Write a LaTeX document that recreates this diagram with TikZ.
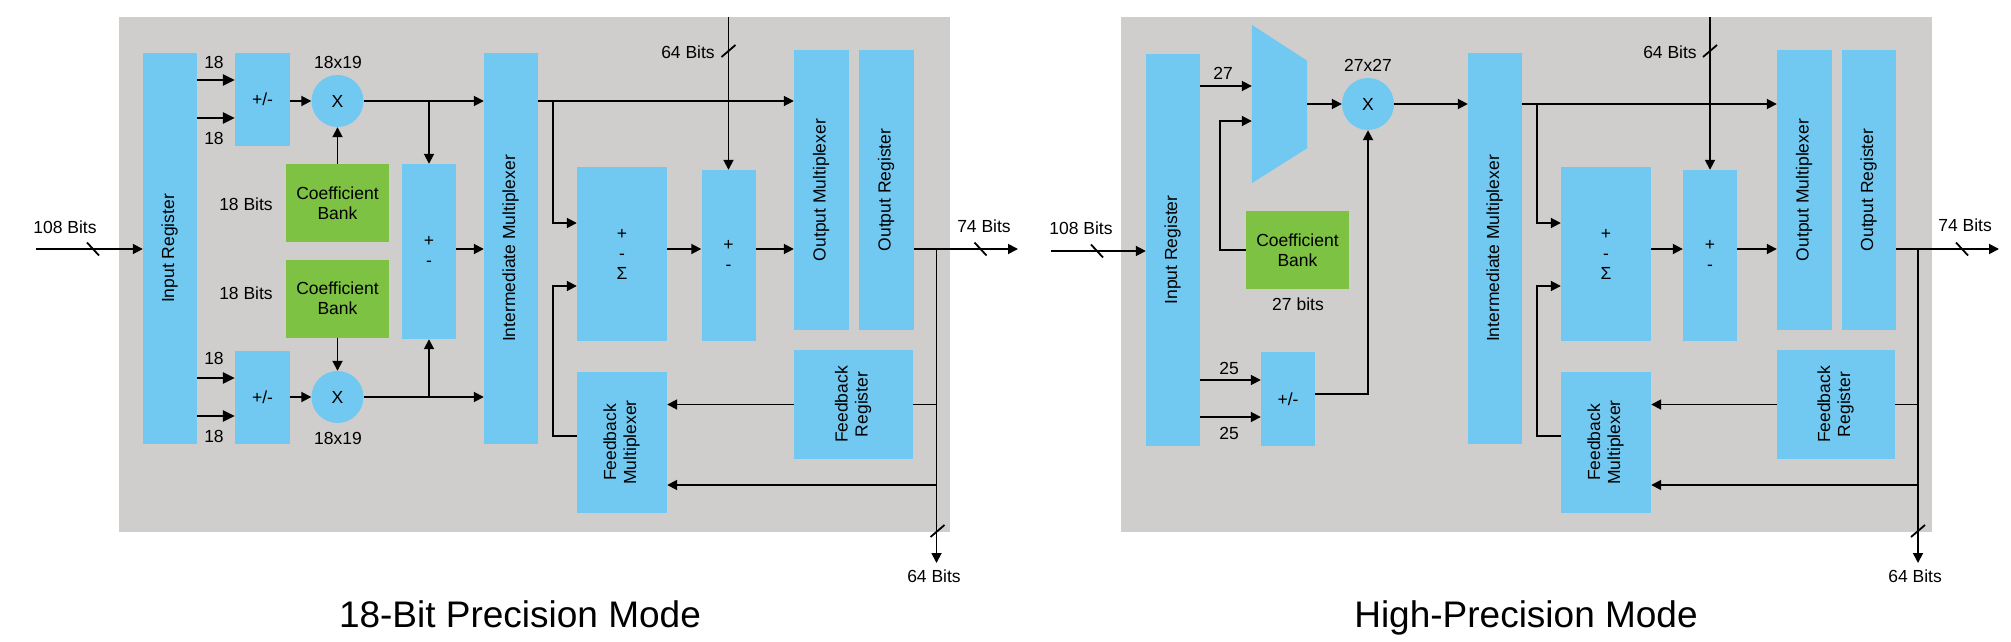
\documentclass[tikz,border=0pt]{standalone}
\usepackage{fontspec}
\setmainfont{Liberation Sans}
\usepackage{graphicx}
\usetikzlibrary{arrows.meta, calc}
\definecolor{panelgray}{RGB}{207,206,205}
\definecolor{blockblue}{RGB}{113,200,240}
\definecolor{bankgreen}{RGB}{125,194,67}
\newcommand{\lblfont}{\fontsize{17.5}{20}\selectfont}
\newcommand{\vtext}[1]{\rotatebox{90}{\begin{tabular}{@{}c@{}}#1\end{tabular}}}

\begin{document}
\begin{tikzpicture}[
        x=1pt, y=-1pt, >={Triangle[length=10pt,width=10pt]},
        wire/.style={line width=1.8pt},
        fatwire/.style={line width=2.8pt, >={Triangle[length=12pt,width=11pt]}},
        blk/.style={fill=blockblue, inner sep=0pt, font=\lblfont, align=center},
        bank/.style={fill=bankgreen, inner sep=0pt, font=\lblfont, align=center,
                     minimum width=103pt, minimum height=78pt},
        mult/.style={circle, fill=blockblue, inner sep=0pt, minimum size=52pt, font=\lblfont},
        lbl/.style={inner sep=0pt, font=\lblfont},
        caption/.style={inner sep=0pt, font=\fontsize{37}{44}\selectfont, anchor=base},
        bslash/.pic={\draw[wire] (-6,-6.5) -- (6,6.5);},
        fslash/.pic={\draw[wire] (-7,6) -- (7,-6);},
        ]
        \useasboundingbox (0,0) rectangle (2011,642);

        % 18-bit precision mode
        \fill[panelgray] (119,17) rectangle (949.5,532);
        \node[blk, minimum width=54pt, minimum height=391pt] (inregA) at (170,248.5) {\vtext{Input Register}};
        \node[blk, minimum width=55pt, minimum height=93pt] (addsubA1) at (262.5,99.5) {+/-};
        \node[blk, minimum width=55pt, minimum height=93pt] (addsubA2) at (262.5,397.5) {+/-};
        \node[mult] (multA1) at (337.5,101) {X};
        \node[mult] (multA2) at (337.5,397) {X};
        \node[bank] (coefA1) at (337.5,203) {Coefficient\\Bank};
        \node[bank] (coefA2) at (337.5,298.5) {Coefficient\\Bank};
        \node[blk, minimum width=54pt, minimum height=175pt] (preaddA) at (429,251.5) {+\\-};
        \node[blk, minimum width=54pt, minimum height=391pt] (imuxA) at (511,248.5) {\vtext{Intermediate Multiplexer}};
        \node[blk, minimum width=90pt, minimum height=174pt] (sigmaA) at (622,254) {+\\-\\Σ};
        \node[blk, minimum width=54pt, minimum height=171pt] (accA) at (728.5,255.5) {+\\-};
        \node[blk, minimum width=55pt, minimum height=280pt] (omuxA) at (821.5,190) {\vtext{Output Multiplexer}};
        \node[blk, minimum width=55pt, minimum height=280pt] (oregA) at (886.5,190) {\vtext{Output Register}};
        \node[blk, minimum width=119pt, minimum height=109pt] (fbregA) at (853.5,404.5) {\vtext{Feedback\\Register}};
        \node[blk, minimum width=90pt, minimum height=141pt] (fbmuxA) at (622,442.5) {\vtext{Feedback\\Multiplexer}};

        \coordinate (inA) at (36,249);
        \coordinate (topA) at (728.5,17);
        \coordinate (outA) at (1018,249);
        \coordinate (downA) at (936.5,563);

        \draw[wire,->] (inA) -- (inA -| inregA.west);
        \pic at ($(inA)+(57,0)$) {bslash};
        \draw[fatwire,->] ([yshift=19.5pt]addsubA1.west -| inregA.east) -- ([yshift=19.5pt]addsubA1.west);
        \draw[fatwire,->] ([yshift=-18.5pt]addsubA1.west -| inregA.east) -- ([yshift=-18.5pt]addsubA1.west);
        \draw[fatwire,->] ([yshift=19.5pt]addsubA2.west -| inregA.east) -- ([yshift=19.5pt]addsubA2.west);
        \draw[fatwire,->] ([yshift=-18.5pt]addsubA2.west -| inregA.east) -- ([yshift=-18.5pt]addsubA2.west);
        \draw[wire,->] (addsubA1.east |- multA1) -- (multA1.west);
        \draw[wire,->] (addsubA2.east |- multA2) -- (multA2.west);
        \draw[wire,->] (coefA1.north) -- (multA1.south);
        \draw[wire,->] (coefA2.south) -- (multA2.north);
        \draw[wire,->] (multA1.east) -- (multA1 -| imuxA.west);
        \draw[wire,->] (multA2.east) -- (multA2 -| imuxA.west);
        \draw[wire,->] (multA1 -| preaddA.north) -- (preaddA.north);
        \draw[wire,->] (multA2 -| preaddA.south) -- (preaddA.south);
        \draw[wire,->] ([yshift=2.5pt]preaddA.east) -- ([yshift=2.5pt]preaddA.east -| imuxA.west);
        \draw[wire,->] (multA1 -| imuxA.east) -- (multA1 -| omuxA.west);
        \draw[wire,->] ($(multA1 -| imuxA.east)+(15,0)$) |- ([yshift=31pt]sigmaA.west);
        \draw[wire,->] ([yshift=5pt]sigmaA.east) -- ([yshift=5pt]sigmaA.east -| accA.west);
        \draw[wire,->] ([yshift=5pt]sigmaA.east -| accA.east) -- ([yshift=5pt]sigmaA.east -| omuxA.west);
        \draw[wire,->] (topA) -- (accA.north);
        \pic at ($(topA)+(0,34)$) {fslash};
        \draw[wire,->] (oregA.east |- outA) -- (outA);
        \pic at ($(outA)+(-37.5,0)$) {bslash};
        \draw[wire,->] (downA |- outA) -- (downA);
        \pic at ($(downA)+(1,-32)$) {fslash};
        \draw[wire] (downA |- fbregA.east) -- (fbregA.east);
        \draw[wire,->] (fbregA.west) -- (fbregA.west -| fbmuxA.east);
        \draw[wire,->] ([yshift=-42.5pt]fbmuxA.east -| downA) -- ([yshift=-42.5pt]fbmuxA.east);
        \draw[wire,->] ([yshift=6.5pt]fbmuxA.west) -- ++(-23.5,0) |- ([yshift=-32pt]sigmaA.west);

        \node[lbl] (n18a) at (214,62) {18};
        \node[lbl] (n18b) at (214,138) {18};
        \node[lbl] (n18c) at (214,358) {18};
        \node[lbl] (n18d) at (214,436) {18};
        \node[lbl] (prodA1) at (338,62) {18x19};
        \node[lbl] (prodA2) at (338,438) {18x19};
        \node[lbl] (bitsA1) at (246,204) {18 Bits};
        \node[lbl] (bitsA2) at (246,293) {18 Bits};
        \node[lbl] (widthinA) at (65,227) {108 Bits};
        \node[lbl] (widthtopA) at (688,52) {64 Bits};
        \node[lbl] (widthoutA) at (984,226) {74 Bits};
        \node[lbl] (widthdownA) at (934,576) {64 Bits};
        \node[caption] (titleA) at (520,627) {18-Bit Precision Mode};

        % high-precision mode
        \fill[panelgray] (1121,17) rectangle (1932,532);
        \node[blk, minimum width=54pt, minimum height=392pt] (inregB) at (1173,250) {\vtext{Input Register}};
        \node[minimum width=55pt, minimum height=158pt, inner sep=0pt] (muxB) at (1279.5,104) {};
        \fill[blockblue] (muxB.north west) -- ([yshift=-36pt]muxB.north east)
            -- ([yshift=35pt]muxB.south east) -- (muxB.south west) -- cycle;
        \node[mult] (multB) at (1368,104) {X};
        \node[bank] (coefB) at (1297.5,250) {Coefficient\\Bank};
        \node[blk, minimum width=54pt, minimum height=94pt] (addsubB) at (1288,399) {+/-};
        \node[blk, minimum width=54pt, minimum height=391pt] (imuxB) at (1495,248.5) {\vtext{Intermediate Multiplexer}};
        \node[blk, minimum width=90pt, minimum height=174pt] (sigmaB) at (1606,254) {+\\-\\Σ};
        \node[blk, minimum width=54pt, minimum height=171pt] (accB) at (1710,255.5) {+\\-};
        \node[blk, minimum width=55pt, minimum height=280pt] (omuxB) at (1804.5,190) {\vtext{Output Multiplexer}};
        \node[blk, minimum width=54pt, minimum height=280pt] (oregB) at (1869,190) {\vtext{Output Register}};
        \node[blk, minimum width=118pt, minimum height=109pt] (fbregB) at (1836,404.5) {\vtext{Feedback\\Register}};
        \node[blk, minimum width=90pt, minimum height=141pt] (fbmuxB) at (1606,442.5) {\vtext{Feedback\\Multiplexer}};

        \coordinate (inB) at (1051,251);
        \coordinate (topB) at (1710,17);
        \coordinate (outB) at (1999,249);
        \coordinate (downB) at (1918,563);

        \draw[wire,->] (inB) -- (inB -| inregB.west);
        \pic at ($(inB)+(46,0)$) {bslash};
        \draw[wire,->] ([yshift=18pt]muxB.west -| inregB.east) -- ([yshift=18pt]muxB.west);
        \draw[wire,->] (coefB.west) -- ++(-26,0) |- ([yshift=-17pt]muxB.west);
        \draw[wire,->] (muxB.east) -- (multB.west);
        \draw[wire,->] (multB.east) -- (multB -| imuxB.west);
        \draw[wire,->] ([yshift=19pt]addsubB.west -| inregB.east) -- ([yshift=19pt]addsubB.west);
        \draw[wire,->] ([yshift=-18pt]addsubB.west -| inregB.east) -- ([yshift=-18pt]addsubB.west);
        \draw[wire,->] ([yshift=5pt]addsubB.east) -| (multB.south);
        \draw[wire,->] (multB -| imuxB.east) -- (multB -| omuxB.west);
        \draw[wire,->] ($(multB -| imuxB.east)+(15,0)$) |- ([yshift=31pt]sigmaB.west);
        \draw[wire,->] ([yshift=5pt]sigmaB.east) -- ([yshift=5pt]sigmaB.east -| accB.west);
        \draw[wire,->] ([yshift=5pt]sigmaB.east -| accB.east) -- ([yshift=5pt]sigmaB.east -| omuxB.west);
        \draw[wire,->] (topB) -- (accB.north);
        \pic at ($(topB)+(0,34)$) {fslash};
        \draw[wire,->] (oregB.east |- outB) -- (outB);
        \pic at ($(outB)+(-37,0)$) {bslash};
        \draw[wire,->] (downB |- outB) -- (downB);
        \pic at ($(downB)+(0,-32)$) {fslash};
        \draw[wire] (downB |- fbregB.east) -- (fbregB.east);
        \draw[wire,->] (fbregB.west) -- (fbregB.west -| fbmuxB.east);
        \draw[wire,->] ([yshift=-42.5pt]fbmuxB.east -| downB) -- ([yshift=-42.5pt]fbmuxB.east);
        \draw[wire,->] ([yshift=6.5pt]fbmuxB.west) -- ++(-24,0) |- ([yshift=-32pt]sigmaB.west);

        \node[lbl] (n27) at (1223,73) {27};
        \node[lbl] (n25a) at (1229,368) {25};
        \node[lbl] (n25b) at (1229,433) {25};
        \node[lbl] (prodB) at (1368,65) {27x27};
        \node[lbl] (bitsB) at (1298,304) {27 bits};
        \node[lbl] (widthinB) at (1081,228) {108 Bits};
        \node[lbl] (widthtopB) at (1670,52) {64 Bits};
        \node[lbl] (widthoutB) at (1965,225) {74 Bits};
        \node[lbl] (widthdownB) at (1915,576) {64 Bits};
        \node[caption] (titleB) at (1526,627) {High-Precision Mode};
\end{tikzpicture}
\end{document}
